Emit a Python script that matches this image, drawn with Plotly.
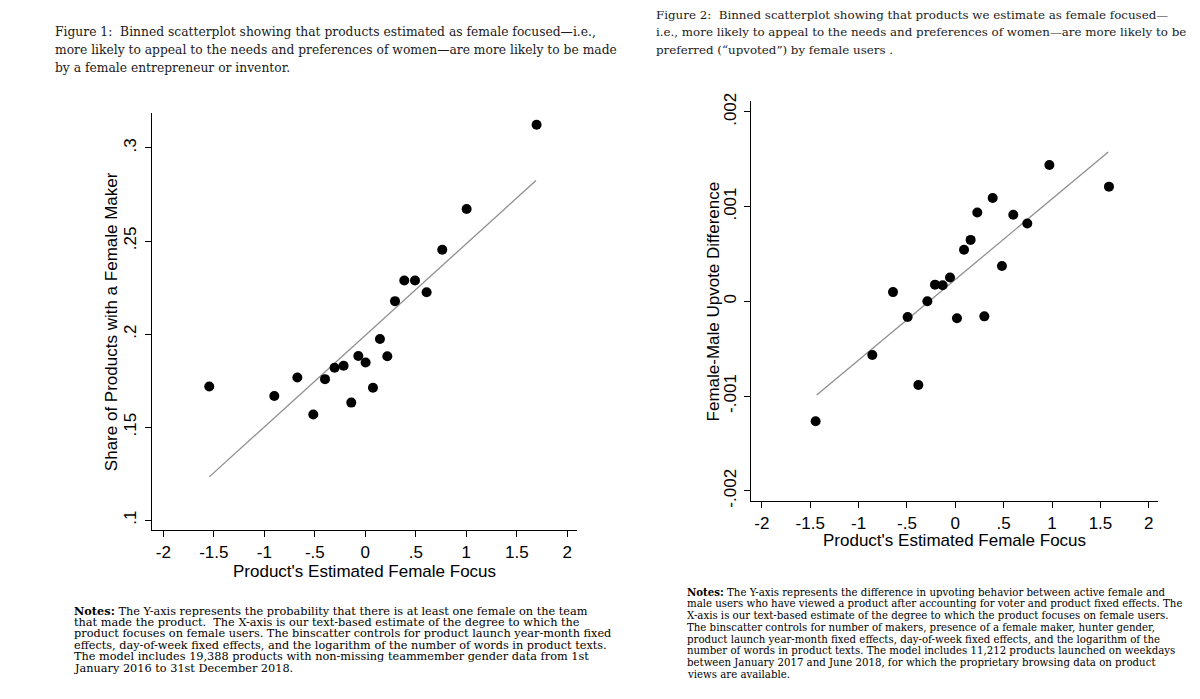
import plotly.graph_objects as go

W, H = 1200, 699

# ---------------- data ----------------
# Figure 1: share of products with a female maker
f1_x = [-1.545, -0.901, -0.673, -0.515, -0.399, -0.304, -0.215, -0.139, -0.069, 0.003,
        0.076, 0.145, 0.218, 0.294, 0.386, 0.492, 0.607, 0.762, 1.003, 1.696]
f1_y = [0.1719, 0.1668, 0.1767, 0.1568, 0.1758, 0.1819, 0.1830, 0.1632, 0.1882, 0.1847,
        0.1712, 0.1974, 0.1881, 0.2177, 0.2288, 0.2288, 0.2225, 0.2453, 0.2672, 0.3125]
f1_fit_x = [-1.545, 1.690]
f1_fit_y = [0.1233, 0.2825]

# Figure 2: female-male upvote difference
f2_x = [-1.444, -0.858, -0.644, -0.493, -0.382, -0.289, -0.210, -0.131, -0.055, 0.017,
        0.090, 0.158, 0.227, 0.300, 0.386, 0.482, 0.599, 0.744, 0.972, 1.588]
f2_y = [-0.001266, -0.000566, 0.000097, -0.000166, -0.000883, 0.0, 0.000176, 0.000169,
        0.000252, -0.000179, 0.000545, 0.000648, 0.000938, -0.000159, 0.001090, 0.000372,
        0.000914, 0.000821, 0.001438, 0.001210]
f2_fit_x = [-1.433, 1.581]
f2_fit_y = [-0.000990, 0.001576]

x_tickvals = [-2, -1.5, -1, -0.5, 0, 0.5, 1, 1.5, 2]
x_ticktext = ["-2", "-1.5", "-1", "-.5", "0", ".5", "1", "1.5", "2"]
f1_ytickvals = [0.1, 0.15, 0.2, 0.25, 0.3]
f1_yticktext = [".1", ".15", ".2", ".25", ".3"]
f2_ytickvals = [-0.002, -0.001, 0, 0.001, 0.002]
f2_yticktext = ["-.002", "-.001", "0", ".001", ".002"]

x_title = "Product's Estimated Female Focus"
f1_y_title = "Share of Products with a Female Maker"
f2_y_title = "Female-Male Upvote Difference"

cap1_lines = [
    "Figure 1:  Binned scatterplot showing that products estimated as female focused—i.e.,",
    "more likely to appeal to the needs and preferences of women—are more likely to be made",
    "by a female entrepreneur or inventor.",
]
cap2_lines = [
    "Figure 2:  Binned scatterplot showing that products we estimate as female focused—",
    "i.e., more likely to appeal to the needs and preferences of women—are more likely to be",
    "preferred (“upvoted”) by female users .",
]
notes1_lines = [
    "<b>Notes:</b> The Y-axis represents the probability that there is at least one female on the team",
    "that made the product.  The X-axis is our text-based estimate of the degree to which the",
    "product focuses on female users. The binscatter controls for product launch year-month fixed",
    "effects, day-of-week fixed effects, and the logarithm of the number of words in product texts.",
    "The model includes 19,388 products with non-missing teammember gender data from 1st",
    "January 2016 to 31st December 2018.",
]
notes2_lines = [
    "<b>Notes:</b> The Y-axis represents the difference in upvoting behavior between active female and",
    "male users who have viewed a product after accounting for voter and product fixed effects. The",
    "X-axis is our text-based estimate of the degree to which the product focuses on female users.",
    "The binscatter controls for number of makers, presence of a female maker, hunter gender,",
    "product launch year-month fixed effects, day-of-week fixed effects, and the logarithm of the",
    "number of words in product texts. The model includes 11,212 products launched on weekdays",
    "between January 2017 and June 2018, for which the proprietary browsing data on product",
    "views are available.",
]

# ---------------- helpers ----------------
def px_x(p):
    return p / W

def px_y(p):
    return 1 - p / H

SANS = "Liberation Sans, Arial, sans-serif"
SERIF = "DejaVu Serif, serif"
AX_FONT = 17

fig = go.Figure()

fig.add_trace(go.Scatter(x=f1_fit_x, y=f1_fit_y, mode="lines",
                         line=dict(color="#8f8f8f", width=1.3),
                         xaxis="x", yaxis="y", showlegend=False, hoverinfo="skip"))
fig.add_trace(go.Scatter(x=f1_x, y=f1_y, mode="markers",
                         marker=dict(color="black", size=10),
                         xaxis="x", yaxis="y", showlegend=False))
fig.add_trace(go.Scatter(x=f2_fit_x, y=f2_fit_y, mode="lines",
                         line=dict(color="#8f8f8f", width=1.3),
                         xaxis="x2", yaxis="y2", showlegend=False, hoverinfo="skip"))
fig.add_trace(go.Scatter(x=f2_x, y=f2_y, mode="markers",
                         marker=dict(color="black", size=10),
                         xaxis="x2", yaxis="y2", showlegend=False))

axis_common = dict(showgrid=False, zeroline=False, showline=True, linecolor="black",
                   linewidth=1, ticks="outside", ticklen=6, tickcolor="black", tickwidth=1,
                   tickfont=dict(family=SANS, size=AX_FONT, color="black"), mirror=False)

# pixel boxes of the two plot areas
L = dict(x0=152.3, x1=577.3, y0=106.7, y1=533.0)
R = dict(x0=751.0, x1=1158.3, y0=95.0, y1=503.3)

fig.update_layout(
    width=W, height=H,
    margin=dict(l=0, r=0, t=0, b=0),
    paper_bgcolor="white", plot_bgcolor="white",
    showlegend=False,
    xaxis=dict(domain=[px_x(L["x0"]), px_x(L["x1"])], range=[-2.109, 2.099],
               tickvals=x_tickvals, ticktext=x_ticktext, anchor="y", **axis_common),
    yaxis=dict(domain=[px_y(L["y1"]), px_y(L["y0"])], range=[0.0946, 0.319],
               tickvals=f1_ytickvals, ticktext=f1_yticktext, tickangle=-90,
               ticklabelstandoff=3, anchor="x", **axis_common),
    xaxis2=dict(domain=[px_x(R["x0"]), px_x(R["x1"])], range=[-2.112, 2.098],
                tickvals=x_tickvals, ticktext=x_ticktext, anchor="y2", **axis_common),
    yaxis2=dict(domain=[px_y(R["y1"]), px_y(R["y0"])], range=[-0.00211, 0.002113],
                tickvals=f2_ytickvals, ticktext=f2_yticktext, tickangle=-90,
                ticklabelstandoff=1, anchor="x2", **axis_common),
)

ann = []
# axis titles
ann.append(dict(text=x_title, x=px_x((L["x0"] + L["x1"]) / 2), y=px_y(575),
                xref="paper", yref="paper", xanchor="center", yanchor="middle",
                showarrow=False, font=dict(family=SANS, size=AX_FONT, color="black")))
ann.append(dict(text=f1_y_title, x=px_x(111.7), y=px_y((L["y0"] + L["y1"]) / 2),
                xref="paper", yref="paper", xanchor="center", yanchor="middle", textangle=-90,
                showarrow=False, font=dict(family=SANS, size=AX_FONT, color="black")))
ann.append(dict(text=x_title, x=px_x((R["x0"] + R["x1"]) / 2), y=px_y(543),
                xref="paper", yref="paper", xanchor="center", yanchor="middle",
                showarrow=False, font=dict(family=SANS, size=AX_FONT, color="black")))
ann.append(dict(text=f2_y_title, x=px_x(713.3), y=px_y((R["y0"] + R["y1"]) / 2),
                xref="paper", yref="paper", xanchor="center", yanchor="middle", textangle=-90,
                showarrow=False, font=dict(family=SANS, size=AX_FONT, color="black")))

def add_lines(lines, x0, y0, dy, size, color):
    for i, t in enumerate(lines):
        ann.append(dict(text=t, x=px_x(x0), y=px_y(y0 + i * dy), xref="paper", yref="paper",
                        xanchor="left", yanchor="middle", showarrow=False, align="left",
                        font=dict(family=SERIF, size=size, color=color)))

add_lines(cap1_lines, 53, 25, 18, 12.3, "#1a1a1a")
add_lines(cap2_lines, 654, 7, 18, 11.85, "#1a1a1a")
add_lines(notes1_lines, 72, 615, 11.8, 11.3, "black")
add_lines(notes2_lines, 685, 596, 12, 10.2, "black")

fig.update_layout(annotations=ann)

fig.write_html("out.html", config={"displayModeBar": False},
               post_script="document.body.style.margin='0px';")
